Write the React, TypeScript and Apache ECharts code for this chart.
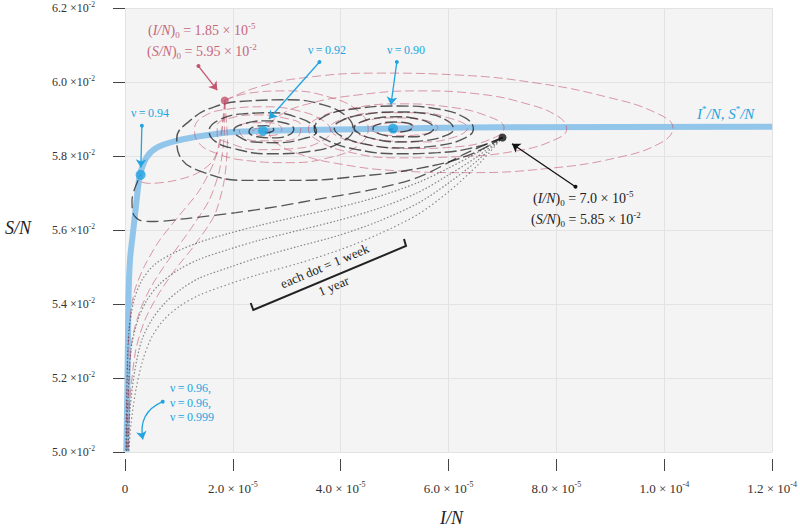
import React, { useEffect, useRef } from 'react';
import * as echarts from 'echarts';

// Units: I/N in 1e-5, S/N in 1e-2
const xTickMant = ['0', '2.0', '4.0', '6.0', '8.0', '1.0', '1.2'];
const xTickExp = ['', '-5', '-5', '-5', '-5', '-4', '-4'];
const yTickMant = ['5.0', '5.2', '5.4', '5.6', '5.8', '6.0', '6.2'];
const yTickExp = ['-2', '-2', '-2', '-2', '-2', '-2', '-2'];

// equilibrium curve I*/N, S*/N
const eqI = [0.024, 0.046, 0.064, 0.092, 0.153, 0.215, 0.276, 0.4, 0.583, 0.951, 1.319, 1.748, 2.171, 2.558, 3.588, 4.968, 6.9, 12.0];
const eqS = [5.001, 5.195, 5.41, 5.518, 5.599, 5.68, 5.748, 5.796, 5.822, 5.841, 5.852, 5.861, 5.866, 5.868, 5.871, 5.874, 5.8775, 5.879];

const nuNames = ['0.94', '0.92', '0.90'];
const nuDotI = [0.29, 2.56, 4.97];
const nuDotS = [5.749, 5.868, 5.874];

const startBlack = [7.0, 5.85];
const startRed = [1.85, 5.95];

const bk90 = [[7.0,5.85],[6.53,5.825],[5.80,5.809],[5.06,5.806],[4.32,5.817],[3.77,5.841],[3.51,5.873],[3.68,5.906],[4.23,5.927],[5.06,5.935],[5.80,5.927],[6.31,5.903],[6.46,5.873],
[6.31,5.849],[5.80,5.828],[5.06,5.822],[4.42,5.833],[4.00,5.855],[3.88,5.876],[4.05,5.898],[4.51,5.914],[5.06,5.919],[5.61,5.914],[5.98,5.895],[6.09,5.873],
[5.94,5.855],[5.52,5.841],[5.06,5.838],[4.60,5.847],[4.32,5.863],[4.25,5.876],[4.38,5.892],[4.69,5.903],[5.06,5.906],[5.43,5.900],[5.67,5.887],[5.72,5.873],[5.61,5.860],[5.34,5.852],[5.06,5.852],[4.78,5.857],[4.62,5.868],[4.60,5.876],[4.73,5.887],[4.97,5.892],[5.21,5.890],[5.34,5.879],[5.24,5.868],[5.06,5.865],[4.91,5.871],[4.97,5.874]];

const rd90 = [[1.85,5.95],[2.48,5.987],[3.40,6.013],[4.69,6.024],[6.16,6.019],[7.64,5.997],[8.92,5.960],[9.84,5.917],[10.16,5.876],[9.94,5.836],[9.11,5.795],[7.82,5.766],[6.35,5.755],[5.06,5.760],[3.96,5.779],[3.22,5.806],[2.76,5.841],[2.67,5.873],
[2.85,5.908],[3.40,5.941],[4.32,5.965],[5.43,5.976],[6.53,5.968],[7.45,5.941],[8.04,5.906],[8.19,5.873],[7.97,5.844],[7.27,5.814],[6.16,5.798],[5.06,5.795],[4.14,5.811],[3.59,5.841],[3.40,5.873],
[3.59,5.903],[4.14,5.927],[5.06,5.941],[5.98,5.933],[6.72,5.908],[7.03,5.876],[6.81,5.847],[6.16,5.825],[5.24,5.82],[4.42,5.833],[3.92,5.855],[3.81,5.876],
[4.05,5.900],[4.69,5.917],[5.43,5.917],[6.07,5.900],[6.35,5.876],[6.13,5.852],[5.52,5.838],[4.88,5.841],[4.36,5.857],[4.23,5.876],
[4.47,5.895],[4.97,5.903],[5.52,5.898],[5.80,5.876],[5.57,5.860],[5.06,5.855],[4.66,5.863],[4.55,5.876],
[4.78,5.887],[5.06,5.890],[5.34,5.882],[5.24,5.868],[4.97,5.865],[4.88,5.873],[4.97,5.874]];

const bk92 = [[7.0,5.85],[6.35,5.801],[5.43,5.766],[4.32,5.745],[3.22,5.734],[2.30,5.734],[1.47,5.755],[1.01,5.801],[0.96,5.847],[1.20,5.895],[1.66,5.933],[2.30,5.949],[3.04,5.952],[3.68,5.938],[4.10,5.908],[4.23,5.873],
[4.05,5.841],[3.50,5.814],[2.67,5.806],[2.02,5.82],[1.66,5.841],[1.56,5.868],[1.75,5.898],[2.21,5.914],[2.76,5.917],[3.22,5.903],[3.50,5.882],[3.55,5.865],
[3.31,5.847],[2.85,5.836],[2.39,5.838],[2.08,5.855],[2.02,5.871],[2.21,5.887],[2.58,5.895],[2.94,5.890],[3.13,5.873],[3.04,5.857],[2.76,5.849],[2.45,5.852],[2.30,5.865],[2.39,5.879],[2.61,5.882],[2.76,5.871],[2.63,5.863],[2.56,5.868]];

const rd92 = [[1.85,5.95],[2.30,5.97],[3.04,5.976],[3.77,5.96],[4.32,5.922],[4.51,5.873],[4.32,5.828],[3.77,5.795],[3.04,5.782],[2.30,5.787],[1.66,5.809],[1.34,5.841],[1.29,5.873],[1.47,5.908],
[1.93,5.927],[2.58,5.933],[3.22,5.922],[3.68,5.895],[3.81,5.868],[3.62,5.838],[3.13,5.82],[2.48,5.817],[1.97,5.833],[1.71,5.857],[1.71,5.882],[1.97,5.903],[2.45,5.911],[2.94,5.903],[3.26,5.882],[3.22,5.855],[2.89,5.841],[2.45,5.841],[2.15,5.857],[2.12,5.876],[2.34,5.89],[2.67,5.89],[2.91,5.873],[2.80,5.857],[2.52,5.855],[2.37,5.868],[2.52,5.876],[2.56,5.868]];

const bk94 = [[7.0,5.85],[6.35,5.809],[5.43,5.742],[4.51,5.707],[3.64,5.685],[2.85,5.664],[2.06,5.647],[1.14,5.631],[0.55,5.623],[0.28,5.626],[0.15,5.645],[0.13,5.68],[0.18,5.712],[0.29,5.749]];
const rd94 = [[1.85,5.95],[1.82,5.895],[1.75,5.828],[1.60,5.782],[1.29,5.75],[0.83,5.731],[0.46,5.726],[0.28,5.731],[0.26,5.742],[0.29,5.749]];

const bk96a = [[7.0,5.85],[6.532,5.809],[5.98,5.766],[5.428,5.728],[4.692,5.69],[3.956,5.661],[3.22,5.637],[2.484,5.612],[1.932,5.591],[1.38,5.567],[0.92,5.539],[0.552,5.507],[0.313,5.464],[0.166,5.41],[0.074,5.329],[0.037,5.195],[0.018,5.001]];
const bk96b = [[7.0,5.85],[6.532,5.798],[5.98,5.747],[5.428,5.701],[4.692,5.658],[3.956,5.626],[3.22,5.599],[2.484,5.572],[1.932,5.548],[1.38,5.521],[0.975,5.491],[0.644,5.454],[0.405,5.41],[0.239,5.357],[0.11,5.276],[0.055,5.141],[0.028,5.001]];
const bk999 = [[7.0,5.85],[6.532,5.787],[5.98,5.725],[5.428,5.672],[4.692,5.623],[3.956,5.585],[3.22,5.556],[2.484,5.526],[1.932,5.499],[1.38,5.47],[1.012,5.437],[0.736,5.402],[0.497,5.357],[0.313,5.303],[0.184,5.222],[0.092,5.114],[0.055,5.001]];
const bkFan = [[7.0,5.85],[6.532,5.774],[5.98,5.701],[5.428,5.642],[4.692,5.588],[3.956,5.545],[3.22,5.51],[2.484,5.48],[1.932,5.454],[1.38,5.424],[1.012,5.394],[0.718,5.357],[0.497,5.311],[0.331,5.249],[0.202,5.168],[0.11,5.074],[0.074,5.001]];

const rd96a = [[1.85,5.95],[1.79,5.868],[1.66,5.787],[1.38,5.707],[1.01,5.64],[0.64,5.572],[0.37,5.505],[0.18,5.437],[0.09,5.357],[0.04,5.195],[0.02,5.001]];
const rd96b = [[1.85,5.95],[1.84,5.855],[1.75,5.76],[1.56,5.68],[1.20,5.599],[0.83,5.524],[0.50,5.451],[0.28,5.383],[0.13,5.303],[0.06,5.141],[0.04,5.001]];
const rd999 = [[1.85,5.95],[1.90,5.841],[1.84,5.734],[1.66,5.64],[1.29,5.559],[0.92,5.491],[0.61,5.424],[0.37,5.357],[0.20,5.276],[0.09,5.141],[0.06,5.001]];

// annotation arrows [from, to] in data units
const arrowNu94 = [[0.313, 5.882], [0.294, 5.769]];
const arrowNu92 = [[3.606, 6.054], [2.668, 5.9]];
const arrowNu90 = [[5.041, 6.054], [4.931, 5.938]];
const arrowNu96 = [[0.699, 5.136], [0.331, 5.034]];
const arrowRed = [[1.362, 6.043], [1.711, 5.978]];
const arrowBlack = [[8.353, 5.717], [7.176, 5.833]];

const FONT = "'Liberation Serif', 'Times New Roman', 'DejaVu Serif', serif";
const BLUE = '#22a4e0';
const BLUE_LINE = '#92c5ea';
const RED = '#c3566f';
const RED_TEXT = '#c6677b';
const DARK = '#222222';

function richSet(color: string, size: number) {
  const base = { fontFamily: FONT, fill: color, color };
  return {
    n: { ...base, fontSize: size, lineHeight: size + 4 },
    i: { ...base, fontSize: size, fontStyle: 'italic', lineHeight: size + 4 },
    sub: { ...base, fontSize: Math.round(size * 0.62), verticalAlign: 'bottom', lineHeight: Math.round(size * 0.62) + 1 },
    sup: { ...base, fontSize: Math.round(size * 0.62), verticalAlign: 'top', lineHeight: Math.round(size * 0.62) + 1 },
  };
}

function txt(x: number, y: number, text: string, color: string, size: number, extra: any = {}) {
  return {
    type: 'text',
    x,
    y,
    z: 100,
    ...extra,
    style: {
      text,
      rich: richSet(color, size),
      fill: color,
      fontFamily: FONT,
      fontSize: size,
      align: extra.align || 'left',
      textAlign: extra.align || 'left',
      verticalAlign: 'middle',
      textVerticalAlign: 'middle',
    },
  };
}

function traj(name: string, data: number[][], color: string, width: number, dash: number[], z = 3, smooth = 0.45) {
  return {
    name,
    type: 'line',
    data,
    showSymbol: false,
    symbol: 'none',
    smooth,
    z,
    lineStyle: { color, width, type: dash },
    silent: true,
  };
}

function arrow(coords: number[][], color: string, curveness = 0) {
  return {
    type: 'lines',
    coordinateSystem: 'cartesian2d',
    z: 8,
    symbol: ['circle', 'arrow'],
    symbolSize: [4, 8],
    lineStyle: { color, width: 1.3, curveness, opacity: 1 },
    data: [{ coords }],
    silent: true,
  };
}

export default function App() {
  const ref = useRef<HTMLDivElement>(null);
  useEffect(() => {
    if (!ref.current) return;
    const chart = echarts.init(ref.current, undefined, { renderer: 'svg' });
    const blk = 'rgba(25,25,25,0.72)';
    const blkFan = 'rgba(40,40,40,0.55)';
    const red = 'rgba(196,86,111,0.6)';
    const option: any = {
      animation: false,
      backgroundColor: '#ffffff',
      grid: { left: 125, right: 22, top: 6, bottom: 80, show: true, backgroundColor: '#f4f4f4', borderWidth: 0 },
      xAxis: {
        type: 'value', min: 0, max: 12, interval: 2, offset: 7,
        axisLine: { show: false },
        axisTick: { show: true, length: 12, lineStyle: { color: '#444', width: 1 } },
        splitLine: { show: true, lineStyle: { color: '#e3e3e3', width: 1 } },
        axisLabel: {
          margin: 21,
          formatter: (v: number) => {
            const i = Math.round(v / 2);
            if (i === 0) return '{m|' + xTickMant[i] + '}';
            return '{m|' + xTickMant[i] + ' × 10}{s|' + xTickExp[i] + '}';
          },
          rich: {
            m: { fontFamily: FONT, fontSize: 13, color: '#333', lineHeight: 16 },
            s: { fontFamily: FONT, fontSize: 8, color: '#333', verticalAlign: 'top', lineHeight: 8 },
          },
        },
      },
      yAxis: {
        type: 'value', min: 5.0, max: 6.2, interval: 0.2, offset: 8,
        axisLine: { show: false },
        axisTick: { show: true, length: 12, lineStyle: { color: '#444', width: 1 } },
        splitLine: { show: true, lineStyle: { color: '#e3e3e3', width: 1 } },
        axisLabel: {
          margin: 22,
          formatter: (v: number) => {
            const i = Math.round((v - 5.0) / 0.2);
            return '{m|' + yTickMant[i] + ' ×10}{s|' + yTickExp[i] + '}';
          },
          rich: {
            m: { fontFamily: FONT, fontSize: 12, color: '#333', lineHeight: 16 },
            s: { fontFamily: FONT, fontSize: 7.5, color: '#333', verticalAlign: 'top', lineHeight: 8 },
          },
        },
      },
      series: [
        {
          name: 'eq', type: 'line', data: eqI.map((x, k) => [x, eqS[k]]),
          showSymbol: false, symbol: 'none', smooth: 0.3, z: 2,
          lineStyle: { color: BLUE_LINE, width: 6 }, silent: true,
        },
        traj('rd90', rd90, red, 1, [9, 4]),
        traj('rd92', rd92, red, 1, [9, 4]),
        traj('rd94', rd94, red, 1, [9, 4], 3, 0.3),
        traj('rd96a', rd96a, red, 1, [9, 4], 3, 0.25),
        traj('rd96b', rd96b, red, 1, [9, 4], 3, 0.25),
        traj('rd999', rd999, red, 1, [9, 4], 3, 0.25),
        traj('bk90', bk90, blk, 1.4, [12, 4], 4),
        traj('bk92', bk92, blk, 1.4, [12, 4], 4),
        traj('bk94', bk94, blk, 1.3, [12, 5], 4, 0.3),
        traj('bk96a', bk96a, blkFan, 1.2, [1.5, 2], 4, 0.3),
        traj('bk96b', bk96b, blkFan, 1.2, [1.5, 2], 4, 0.3),
        traj('bk999', bk999, blkFan, 1.2, [1.5, 2], 4, 0.3),
        traj('bkFan', bkFan, blkFan, 1.1, [1.5, 2.5], 4, 0.3),
        {
          name: 'nuDots', type: 'scatter', z: 9, symbolSize: 10,
          itemStyle: { color: BLUE },
          data: nuDotI.map((x, k) => ({ value: [x, nuDotS[k]], name: nuNames[k] })),
        },
        { name: 'startBlack', type: 'scatter', z: 9, symbolSize: 8, itemStyle: { color: '#111' }, data: [startBlack] },
        { name: 'startRed', type: 'scatter', z: 9, symbolSize: 8, itemStyle: { color: RED }, data: [startRed] },
        arrow(arrowNu94, BLUE),
        arrow(arrowNu92, BLUE),
        arrow(arrowNu90, BLUE),
        arrow(arrowNu96, BLUE, -0.4),
        arrow(arrowRed, RED),
        arrow(arrowBlack, '#111'),
      ],
      graphic: [
        txt(131, 113, '{n|ν\u2009=\u20090.94}', BLUE, 12),
        txt(308, 50, '{n|ν\u2009=\u20090.92}', BLUE, 12),
        txt(387, 50, '{n|ν\u2009=\u20090.90}', BLUE, 12),
        txt(170, 388, '{n|ν\u2009=\u20090.96,}', BLUE, 12),
        txt(170, 403, '{n|ν\u2009=\u20090.96,}', BLUE, 12),
        txt(170, 417, '{n|ν\u2009=\u20090.999}', BLUE, 12),
        txt(697, 114, '{i|I}{sup|*}{i|/N, S}{sup|*}{i|/N}', BLUE, 15),
        txt(148, 30, '{n|(}{i|I/N}{n|)}{sub|0}{n| = 1.85 × 10}{sup|-5}', RED_TEXT, 14),
        txt(147, 51, '{n|(}{i|S/N}{n|)}{sub|0}{n| = 5.95 × 10}{sup|-2}', RED_TEXT, 14),
        txt(533, 198, '{n|(}{i|I/N}{n|)}{sub|0}{n| = 7.0 × 10}{sup|-5}', DARK, 14),
        txt(531, 219, '{n|(}{i|S/N}{n|)}{sub|0}{n| = 5.85 × 10}{sup|-2}', DARK, 14),
        txt(5, 228, '{i|S/N}', DARK, 18),
        txt(440, 518, '{i|I/N}', DARK, 18),
        txt(324.7, 266, '{n|each dot = 1 week}', DARK, 13, { rotation: 0.397, align: 'center' }),
        txt(333.5, 286, '{n|1 year}', DARK, 13, { rotation: 0.397, align: 'center' }),
        {
          type: 'polyline', z: 100,
          shape: { points: [[250.7, 303], [253.3, 310], [406, 246], [404, 239]] },
          style: { stroke: '#222', lineWidth: 2, fill: 'none' },
        },
      ],
    };
    chart.setOption(option);
    return () => chart.dispose();
  }, []);
  return <div ref={ref} style={{ position: 'fixed', left: 0, top: 0, width: 800, height: 532 }} />;
}
